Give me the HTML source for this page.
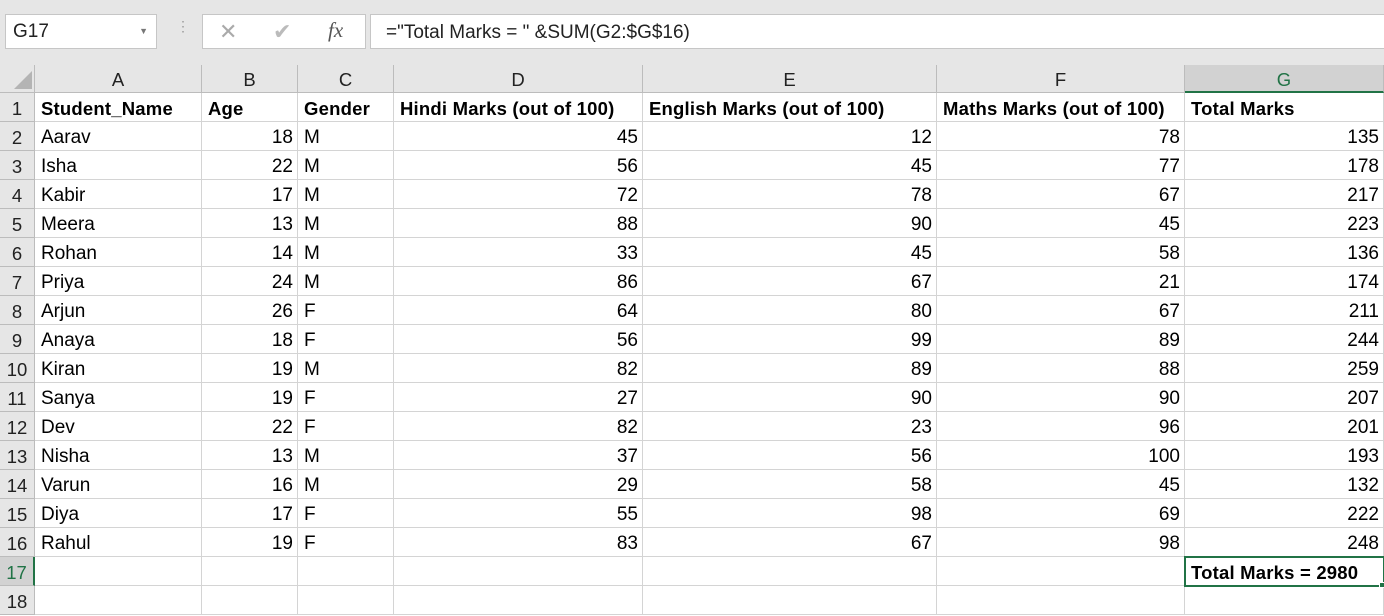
<!DOCTYPE html>
<html><head><meta charset="utf-8">
<style>
body{margin:0;width:1384px;height:609px;overflow:hidden;background:#fff;font-family:"Liberation Sans",sans-serif;position:relative}
.a{position:absolute;box-sizing:border-box}
.cell{position:absolute;box-sizing:border-box;border-right:1px solid #d4d4d4;border-bottom:1px solid #d4d4d4;font-size:19px;line-height:28px;padding:1px 4px 0 6px;white-space:nowrap;overflow:visible;color:#000}
.hd{position:absolute;box-sizing:border-box;background:#e6e6e6;border-right:1px solid #bcbcbc;border-bottom:1px solid #bcbcbc;font-size:18.5px;color:#222;text-align:center;line-height:28px}
.sel{background:#d2d2d2;color:#217346}
</style></head><body>
<div class="a" style="left:0;top:0;width:1384px;height:65px;background:#e6e6e6"></div>
<div class="a" style="left:5px;top:14px;width:152px;height:35px;background:#fff;border:1px solid #c6c6c6;font-size:19px;line-height:33px;padding-left:7px;color:#222">G17<span style="position:absolute;right:8px;top:0;font-size:9px;color:#777">▼</span></div>
<div class="a" style="left:176px;top:22px;width:6px;height:24px;color:#999;font-size:14px;line-height:8px">⋮</div>
<div class="a" style="left:202px;top:14px;width:164px;height:35px;background:#fff;border:1px solid #c6c6c6"></div>
<div class="a" style="left:219px;top:19px;font-size:22px;color:#aaa">✕</div>
<div class="a" style="left:273px;top:19px;font-size:22px;color:#bbb">✔</div>
<div class="a" style="left:328px;top:18px;font-size:21px;font-style:italic;font-family:'Liberation Serif',serif;color:#555">fx</div>
<div class="a" style="left:370px;top:14px;width:1020px;height:35px;background:#fff;border:1px solid #c6c6c6;font-size:19px;line-height:35px;padding-left:15px;color:#222">="Total Marks = " &amp;SUM(G2:$G$16)</div>
<div id="grid"></div>
<script>
const cols=['A','B','C','D','E','F','G'];
const colX=[35,202,298,394,643,937,1185,1384];
const headers=['Student_Name','Age','Gender','Hindi Marks (out of 100)','English Marks (out of 100)','Maths Marks (out of 100)','Total Marks'];
const names=['Aarav','Isha','Kabir','Meera','Rohan','Priya','Arjun','Anaya','Kiran','Sanya','Dev','Nisha','Varun','Diya','Rahul'];
const ages=[18,22,17,13,14,24,26,18,19,19,22,13,16,17,19];
const genders=['M','M','M','M','M','M','F','F','M','F','F','M','M','F','F'];
const hindi=[45,56,72,88,33,86,64,56,82,27,82,37,29,55,83];
const english=[12,45,78,90,45,67,80,99,89,90,23,56,58,98,67];
const maths=[78,77,67,45,58,21,67,89,88,90,96,100,45,69,98];
const totals=hindi.map((h,i)=>h+english[i]+maths[i]);
const g=document.getElementById('grid');
function mk(cls,x,y,w,h,txt,extra){const d=document.createElement('div');d.className=cls;d.style.left=x+'px';d.style.top=y+'px';d.style.width=w+'px';d.style.height=h+'px';if(extra)d.style.cssText+=extra;d.textContent=txt;g.appendChild(d);return d;}
let c=mk('hd',0,65,35,28,'','');


c.innerHTML='<div style="position:absolute;right:2px;bottom:3px;width:0;height:0;border-left:18px solid transparent;border-bottom:18px solid #b4b4b4"></div>';
cols.forEach((L,i)=>{const d=mk('hd'+(L==='G'?' sel':''),colX[i],65,colX[i+1]-colX[i],28,L,'line-height:30px;'+(L==='G'?'border-bottom:2px solid #217346':''));

});
const rowY=r=>93+(r-1)*29;
for(let r=1;r<=18;r++){const d=mk('hd'+(r===17?' sel':''),0,rowY(r),35,29,String(r),'text-align:center;padding:1px 0 0 0;line-height:29px;'+(r===17?'border-right:2px solid #217346':''));


for(let i=0;i<7;i++){let txt='',right=false,bold=false;
if(r===1){txt=headers[i];bold=true;}
else if(r<=16){const k=r-2;txt=[names[k],ages[k],genders[k],hindi[k],english[k],maths[k],totals[k]][i];right=typeof txt==='number';}
else if(r===17&&i===6){txt='Total Marks = '+totals.reduce((a,b)=>a+b,0);bold=true;}
const e=mk('cell',colX[i],rowY(r),colX[i+1]-colX[i],29,String(txt),'line-height:29px;'+(right?'text-align:right;':'')+(bold?'font-weight:bold;font-size:18.5px;letter-spacing:0.2px;':''));

}}
const s=mk('a',1184,rowY(17)-1,201,31,'','border:2px solid #217346;');


const h=mk('a',1379,rowY(17)+25,6,6,'','background:#217346;border:1px solid #fff');


</script>
</body></html>
